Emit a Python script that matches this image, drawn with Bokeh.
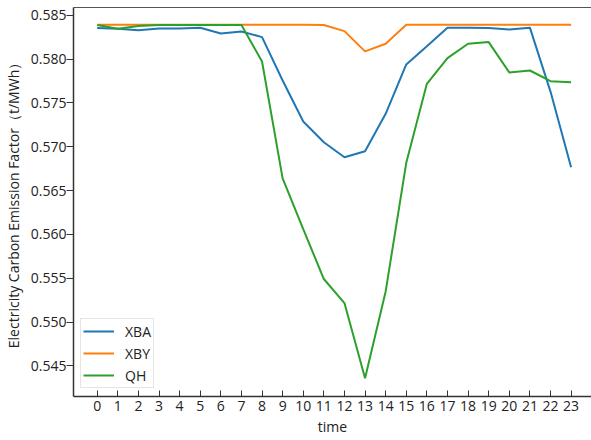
from bokeh.plotting import figure
from bokeh.models import FixedTicker, Range1d, Legend, LegendItem, LinearAxis, NumeralTickFormatter
from bokeh.embed import file_html
from bokeh.resources import INLINE

hours = list(range(24))
xba = [0.58355, 0.58348, 0.58329, 0.58351, 0.58350, 0.58359, 0.58294, 0.58317,
       0.58252, 0.57757, 0.57289, 0.57052, 0.56881, 0.56949, 0.57377, 0.57940,
       0.58147, 0.58359, 0.58360, 0.58355, 0.58340, 0.58360, 0.57630, 0.56767]
xby = [0.58392, 0.58392, 0.58392, 0.58392, 0.58392, 0.58392, 0.58392, 0.58392,
       0.58392, 0.58392, 0.58392, 0.58390, 0.58320, 0.58089, 0.58176, 0.58392,
       0.58392, 0.58392, 0.58392, 0.58392, 0.58392, 0.58392, 0.58392, 0.58392]
qh = [0.58389, 0.58348, 0.58378, 0.58390, 0.58390, 0.58390, 0.58390, 0.58390,
      0.57974, 0.56640, 0.56060, 0.55491, 0.55216, 0.54359, 0.55349, 0.56817,
      0.57719, 0.58012, 0.58176, 0.58195, 0.57849, 0.57871, 0.57749, 0.57738]
y_ticks = [0.545, 0.550, 0.555, 0.560, 0.565, 0.570, 0.575, 0.580, 0.585]
series_names = ["XBA", "XBY", "QH"]
colors = ["#1f77b4", "#ff7f0e", "#2ca02c"]

FONT = "Open Sans"
FS = "14px"
TXT = "#222222"

p = figure(width=591, height=440, output_backend="svg", toolbar_location=None,
           x_range=Range1d(-1.15, 23.99), y_range=Range1d(0.5415, 0.5859),
           min_border_left=72, min_border_right=0, min_border_top=7, min_border_bottom=44)
p.outline_line_color = None
p.xgrid.visible = False
p.ygrid.visible = False

renderers = []
for name, ys, c in zip(series_names, [xba, xby, qh], colors):
    r = p.line(hours, ys, line_color=c, line_width=2)
    renderers.append((name, r))

# x axis
xa = p.xaxis[0]
xa.ticker = FixedTicker(ticks=hours)
xa.minor_tick_line_color = None
xa.major_tick_in = 6
xa.major_tick_out = 0
xa.major_label_standoff = 4
xa.axis_label = "time"
xa.axis_label_standoff = 3
xa.axis_label_text_font = FONT
xa.axis_label_text_font_style = "normal"
xa.axis_label_text_font_size = FS
xa.axis_label_text_color = TXT
xa.major_label_text_font = FONT
xa.major_label_text_font_size = FS
xa.major_label_text_color = TXT
xa.axis_line_color = "#333333"
xa.axis_line_width = 1.5
xa.major_tick_line_color = "#333333"

# y axis
ya = p.yaxis[0]
ya.ticker = FixedTicker(ticks=y_ticks)
ya.formatter = NumeralTickFormatter(format="0.000")
ya.minor_tick_line_color = None
ya.major_tick_in = 0
ya.major_tick_out = 7
ya.major_label_standoff = 0
ya.axis_label = "Electricity Carbon Emission Factor（t/MWh）"
ya.axis_label_standoff = 5
ya.axis_label_text_font = FONT
ya.axis_label_text_font_style = "normal"
ya.axis_label_text_font_size = FS
ya.axis_label_text_color = TXT
ya.major_label_text_font = FONT
ya.major_label_text_font_size = FS
ya.major_label_text_color = TXT
ya.axis_line_color = "#333333"
ya.axis_line_width = 1.5
ya.major_tick_line_color = "#333333"

# top spine
top = LinearAxis(ticker=FixedTicker(ticks=[]), major_label_text_font_size="0px",
                 major_tick_in=0, major_tick_out=0, minor_tick_in=0, minor_tick_out=0,
                 axis_line_color="#555555", axis_line_width=1.2, major_label_standoff=0)
p.add_layout(top, "above")

legend = Legend(items=[LegendItem(label=n, renderers=[r]) for n, r in renderers],
                location=(7, 8), padding=2, spacing=2, glyph_width=31, glyph_height=20,
                label_height=20, label_standoff=11, label_text_font=FONT,
                label_text_font_size=FS, label_text_color=TXT, border_line_color="#cccccc",
                background_fill_alpha=0.8, margin=0)
p.add_layout(legend, "center")

open("out.html", "w").write(file_html(p, INLINE))
